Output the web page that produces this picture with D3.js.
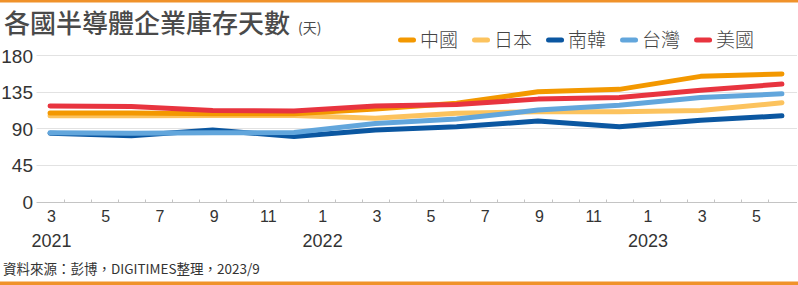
<!DOCTYPE html>
<html>
<head>
<meta charset="utf-8">
<script src="https://cdn.jsdelivr.net/npm/d3@7"></script>
<style>
  body { margin: 0; background: #fff; }
  svg { display: block; }
  .cjk { font-family: "Noto Sans CJK TC", "Noto Sans", sans-serif; }
  .num { font-family: "Liberation Sans Narrow", "Liberation Sans", Arial, sans-serif; }
</style>
</head>
<body>
<svg id="chart"></svg>
<script>

// Months of the quarterly data (Mar 2021 - Jun 2023)
var months = ["2021-03", "2021-06", "2021-09", "2021-12", "2022-03", "2022-06", "2022-09", "2022-12", "2023-03", "2023-06"];

// Inventory days per country
var china  = [109, 109, 108, 108, 114, 121, 135, 138, 154, 157];
var japan  = [105.5, 105.5, 106, 106, 102.5, 108.5, 110.5, 110.5, 112, 121.5];
var korea  = [84, 81, 88, 80, 88, 92, 99, 92, 100, 105.5];
var taiwan = [84.5, 84, 84.5, 85, 96, 101.5, 112.5, 118.5, 128, 132.5];
var usa    = [117.5, 117, 112, 111.5, 117.5, 119.5, 126, 128, 137, 144.5];

// Tick labels
var yTicks = [0, 45, 90, 135, 180];
var yearLabels = [["2021-03", "2021"], ["2022-01", "2022"], ["2023-01", "2023"]];

// Legend / series names, in legend order
var names = ["中國", "日本", "南韓", "台灣", "美國"];
var colors = ["#f39800", "#fcc35e", "#0b57a1", "#62a6dc", "#e8343f"];
var seriesValues = [china, japan, korea, taiwan, usa];
// drawing order, last one on top
var drawOrder = [2, 1, 3, 0, 4];

window.onload = function() {

  var width = 798, height = 285;

  var svg = d3.select("#chart")
              .attr("width", width)
              .attr("height", height);

  // orange bars top and bottom
  svg.append("rect").attr("x", 0).attr("y", 0).attr("width", width).attr("height", 2.5).attr("fill", "#f0922a");
  svg.append("rect").attr("x", 0).attr("y", 281.5).attr("width", width).attr("height", 3.5).attr("fill", "#f0922a");

  // every month on the axis
  var allMonths = [];
  var t = new Date(2021, 2, 1);
  while (t <= new Date(2023, 5, 1)) {
    allMonths.push(d3.timeFormat("%Y-%m")(t));
    t = d3.timeMonth.offset(t, 1);
  }

  var x = d3.scaleBand()
            .domain(allMonths)
            .range([36.5, 795.5])
            .padding(0);

  var y = d3.scaleLinear()
            .domain([0, 180])
            .range([201.6, 55.2]);

  function cx(m) { return x(m) + x.bandwidth() / 2; }

  // gridlines
  svg.append("g")
     .selectAll("line")
     .data(yTicks.filter(function(d) { return d > 0; }))
     .enter()
     .append("line")
     .attr("x1", 36.5).attr("x2", 797)
     .attr("y1", function(d) { return Math.round(y(d)) + 0.5; })
     .attr("y2", function(d) { return Math.round(y(d)) + 0.5; })
     .attr("stroke", "#e2e2e2")
     .attr("stroke-width", 1);

  // y axis labels
  var yAxis = d3.axisLeft(y).tickValues(yTicks).tickSize(0).tickPadding(0);
  var yg = svg.append("g")
              .attr("transform", "translate(33,0)")
              .call(yAxis);
  yg.select(".domain").remove();
  yg.selectAll("text")
    .attr("class", "num")
    .attr("font-size", 19)
    .attr("fill", "#333")
    .attr("dy", "0.36em");

  // x axis line
  var axisY = Math.round(y(0)) + 0.5;
  svg.append("line")
     .attr("x1", 36.5).attr("x2", 797)
     .attr("y1", axisY).attr("y2", axisY)
     .attr("stroke", "#c4c4c4");

  // minor ticks at every month boundary
  svg.append("g")
     .selectAll("line")
     .data(allMonths.slice(1))
     .enter()
     .append("line")
     .attr("x1", function(d) { return Math.round(x(d)) + 0.5; })
     .attr("x2", function(d) { return Math.round(x(d)) + 0.5; })
     .attr("y1", axisY - 3).attr("y2", axisY)
     .attr("stroke", "#c4c4c4");

  // month labels on odd months
  var labelMonths = allMonths.filter(function(d) { return +d.slice(5) % 2 == 1; });
  var xAxis = d3.axisBottom(x)
                .tickValues(labelMonths)
                .tickSize(0)
                .tickPadding(0)
                .tickFormat(function(d) { return +d.slice(5); });
  var xg = svg.append("g")
              .attr("transform", "translate(1.5,0)")
              .call(xAxis);
  xg.select(".domain").remove();
  xg.selectAll("text")
    .attr("class", "num")
    .attr("font-size", 16)
    .attr("fill", "#333")
    .attr("y", 221.5)
    .attr("dy", null);

  // year labels
  svg.append("g")
     .selectAll("text")
     .data(yearLabels)
     .enter()
     .append("text")
     .attr("class", "num")
     .attr("x", function(d) { return cx(d[0]) + 1.5; })
     .attr("y", 246.5)
     .attr("text-anchor", "middle")
     .attr("font-size", 18)
     .attr("fill", "#333")
     .text(function(d) { return d[1]; });

  // lines
  var line = d3.line()
               .x(function(d, i) { return cx(months[i]); })
               .y(function(d) { return y(d); });

  svg.append("g")
     .selectAll("path")
     .data(drawOrder)
     .enter()
     .append("path")
     .attr("d", function(k) { return line(seriesValues[k]); })
     .attr("fill", "none")
     .attr("stroke", function(k) { return colors[k]; })
     .attr("stroke-width", 5)
     .attr("stroke-linecap", "round")
     .attr("stroke-linejoin", "round");

  // title
  var title = svg.append("text")
                 .attr("class", "cjk")
                 .attr("x", 4)
                 .attr("y", 33)
                 .attr("font-size", 26)
                 .attr("font-weight", 500)
                 .attr("fill", "#4a4a4a")
                 .text("各國半導體企業庫存天數");
  svg.append("text")
     .attr("class", "cjk")
     .attr("x", 4 + title.node().getComputedTextLength() + 8)
     .attr("y", 33)
     .attr("font-size", 14)
     .attr("fill", "#4a4a4a")
     .text("(天)");

  // legend
  var lx = 398;
  names.forEach(function(name, i) {
    var g = svg.append("g");
    g.append("line")
     .attr("x1", lx + 2.5).attr("x2", lx + 15.5)
     .attr("y1", 40).attr("y2", 40)
     .attr("stroke", colors[i])
     .attr("stroke-width", 5)
     .attr("stroke-linecap", "round");
    var txt = g.append("text")
               .attr("class", "cjk")
               .attr("x", lx + 22)
               .attr("y", 47)
               .attr("font-size", 19)
               .attr("font-weight", 300)
               .attr("fill", "#444")
               .text(name);
    lx = lx + 22 + txt.node().getComputedTextLength() + 14;
  });

  // source note
  svg.append("text")
     .attr("class", "cjk")
     .attr("x", 3)
     .attr("y", 274)
     .attr("font-size", 13.5)
     .attr("fill", "#333")
     .text("資料來源：彭博，DIGITIMES整理，2023/9");
};
</script>
</body>
</html>
